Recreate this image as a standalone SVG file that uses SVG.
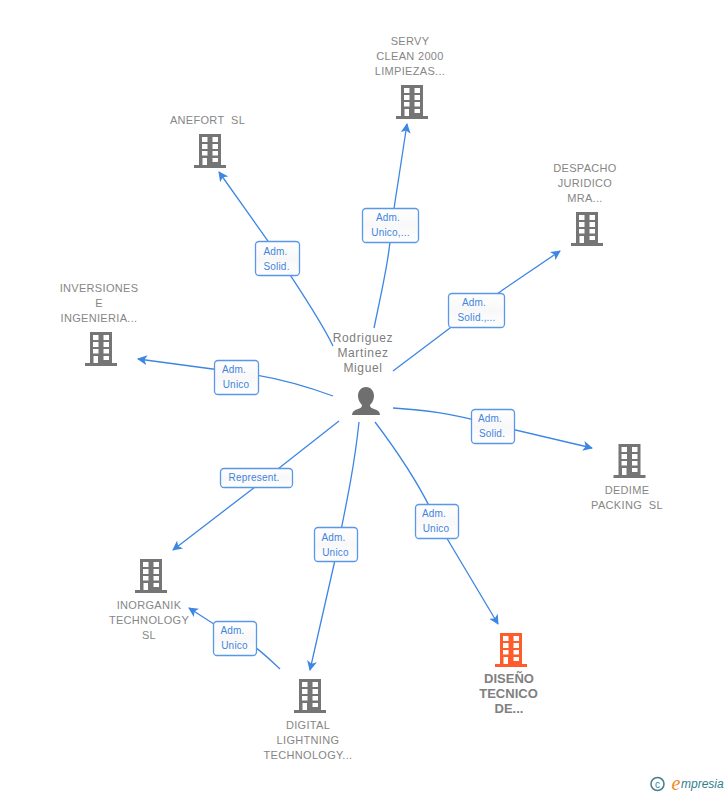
<svg xmlns="http://www.w3.org/2000/svg" width="728" height="795" viewBox="0 0 728 795">
<style>
text{font-family:"Liberation Sans",Arial,sans-serif}
.n{font-size:11px;fill:#868686;text-anchor:middle;letter-spacing:.32px;white-space:pre}
.b{font-size:13px;fill:#808080;text-anchor:middle;font-weight:700}
.p{font-size:12px;fill:#7d7d7d;text-anchor:middle;letter-spacing:.65px}
.l{font-size:10px;fill:#3f85e0;text-anchor:middle;letter-spacing:.2px}
.c{fill:none;stroke:#3d86e4;stroke-width:1.3;marker-end:url(#a)}
.box{fill:url(#g);stroke:#5a97e8;stroke-width:1.3}
</style>
<defs>
<linearGradient id="g" x1="0" y1="0" x2="0" y2="1"><stop offset="0" stop-color="#fff"/><stop offset=".5" stop-color="#f8f8f8"/><stop offset="1" stop-color="#fff"/></linearGradient>
<marker id="a" viewBox="0 0 10 10" refX="9" refY="5" markerWidth="10" markerHeight="10" markerUnits="userSpaceOnUse" orient="auto"><path d="M0 0L10 5L0 10L2.500 5Z" fill="#3d86e4"/></marker>
<g id="bld">
<path fill-rule="evenodd" d="M-11-17H11V14H16V17H-16V14H-11ZM-8-14V-9H-2.500V-14ZM2.500-14V-9H8V-14ZM-8-7V-2H-2.500V-7ZM2.500-7V-2H8V-7ZM-8 0V4.500H-2.500V0ZM2.500 0V4.500H8V0ZM-7.500 7V14H-3V7ZM2.500 7V11H8V7Z"/>
</g>
</defs>
<g id="connectors">
<path class="c" d="M333 346C318 315 296 285 268 241L219 172"/>
<path class="c" d="M374 328C382 290 390 255 393 215L407 124"/>
<path class="c" d="M393 371L450 328L504 289L560 251"/>
<path class="c" d="M333 396C300 384 270 376 235 372L138 359"/>
<path class="c" d="M393 408C425 410 450 413 490 424L592 448"/>
<path class="c" d="M339 421L255 487L173 550"/>
<path class="c" d="M359 422C354 470 345 510 335 560L310 670"/>
<path class="c" d="M375 422C400 455 420 485 436 520L498 624"/>
<path class="c" d="M280 669C265 655 250 640 234 637L189 608"/>
</g>
<g id="labels">
<g><rect class="box" x="255.500" y="241.500" width="44" height="34" rx="3.500"/><text class="l" x="275.500" y="255">Adm.</text><text class="l" x="276.500" y="270">Solid.</text></g>
<g><rect class="box" x="362.500" y="208.500" width="56" height="34" rx="3.500"/><text class="l" x="388" y="221">Adm.</text><text class="l" x="390.500" y="236">Unico,...</text></g>
<g><rect class="box" x="448.500" y="293.500" width="56" height="34" rx="3.500"/><text class="l" x="474" y="306">Adm.</text><text class="l" x="476.500" y="321">Solid.,...</text></g>
<g><rect class="box" x="214.500" y="360.500" width="44" height="34" rx="3.500"/><text class="l" x="234" y="373">Adm.</text><text class="l" x="236" y="388">Unico</text></g>
<g><rect class="box" x="471.500" y="409.500" width="43" height="34" rx="3.500"/><text class="l" x="490" y="422">Adm.</text><text class="l" x="492" y="437">Solid.</text></g>
<g><rect class="box" x="220.500" y="468.500" width="72" height="19" rx="3.500"/><text class="l" x="254" y="481">Represent.</text></g>
<g><rect class="box" x="314.500" y="527.500" width="43" height="34" rx="3.500"/><text class="l" x="333.500" y="541">Adm.</text><text class="l" x="335.500" y="556">Unico</text></g>
<g><rect class="box" x="415.500" y="504.500" width="43" height="34" rx="3.500"/><text class="l" x="434" y="517">Adm.</text><text class="l" x="436" y="532">Unico</text></g>
<g><rect class="box" x="213.500" y="621.500" width="43" height="34" rx="3.500"/><text class="l" x="232.500" y="634">Adm.</text><text class="l" x="234.500" y="649">Unico</text></g>
</g>
<g id="node-person">
<text class="p" x="363" y="342">Rodriguez</text><text class="p" x="363" y="357">Martinez</text><text class="p" x="363" y="372">Miguel</text>
<path fill="#6f6f6f" d="M366 387C371 387 374 391 374 396C374 400 372 403 370 405C370 407 371 408 374 409C378 410 380 412 380 415H352C352 412 354 410 358 409C361 408 362 407 362 405C360 403 358 400 358 396C358 391 361 387 366 387Z"/>
</g>
<g id="node-anefort" fill="#757575"><use href="#bld" x="210" y="151"/><text class="n" x="207.500" y="124">ANEFORT  SL</text></g>
<g id="node-servy" fill="#757575"><use href="#bld" x="412" y="102"/><text class="n" x="410" y="45">SERVY</text><text class="n" x="410" y="60">CLEAN 2000</text><text class="n" x="410" y="75">LIMPIEZAS...</text></g>
<g id="node-despacho" fill="#757575"><use href="#bld" x="587" y="229"/><text class="n" x="585" y="172">DESPACHO</text><text class="n" x="585" y="187">JURIDICO</text><text class="n" x="585" y="202">MRA...</text></g>
<g id="node-inversiones" fill="#757575"><use href="#bld" x="101" y="349"/><text class="n" x="99" y="292">INVERSIONES</text><text class="n" x="99" y="307">E</text><text class="n" x="99" y="322">INGENIERIA...</text></g>
<g id="node-dedime" fill="#757575"><use href="#bld" x="629.500" y="461"/><text class="n" x="627" y="494">DEDIME</text><text class="n" x="627" y="509">PACKING  SL</text></g>
<g id="node-inorganik" fill="#757575"><use href="#bld" x="151" y="576"/><text class="n" x="149" y="609">INORGANIK</text><text class="n" x="149" y="624">TECHNOLOGY</text><text class="n" x="149" y="639">SL</text></g>
<g id="node-digital" fill="#757575"><use href="#bld" x="310" y="696"/><text class="n" x="308" y="729">DIGITAL</text><text class="n" x="308" y="744">LIGHTNING</text><text class="n" x="308" y="759">TECHNOLOGY...</text></g>
<g id="node-diseno" fill="#ff5c2b"><use href="#bld" x="511" y="650"/><text class="b" x="509" y="683">DISEÑO</text><text class="b" x="508.500" y="698">TECNICO</text><text class="b" x="509" y="713">DE...</text></g>
<g id="credit">
<circle cx="657.500" cy="784" r="6.500" fill="none" stroke="#3f7f8f" stroke-width="1.500"/><text x="657.500" y="787.500" font-size="10" fill="#3f7f8f" text-anchor="middle">c</text>
<text x="671.500" y="790" font-size="20" font-style="italic" fill="#f08a1d" style="font-family:'Liberation Serif',serif">e</text>
<text x="681" y="788" font-size="12" font-style="italic" fill="#2f7f8f">mpresia</text>
</g>
</svg>
